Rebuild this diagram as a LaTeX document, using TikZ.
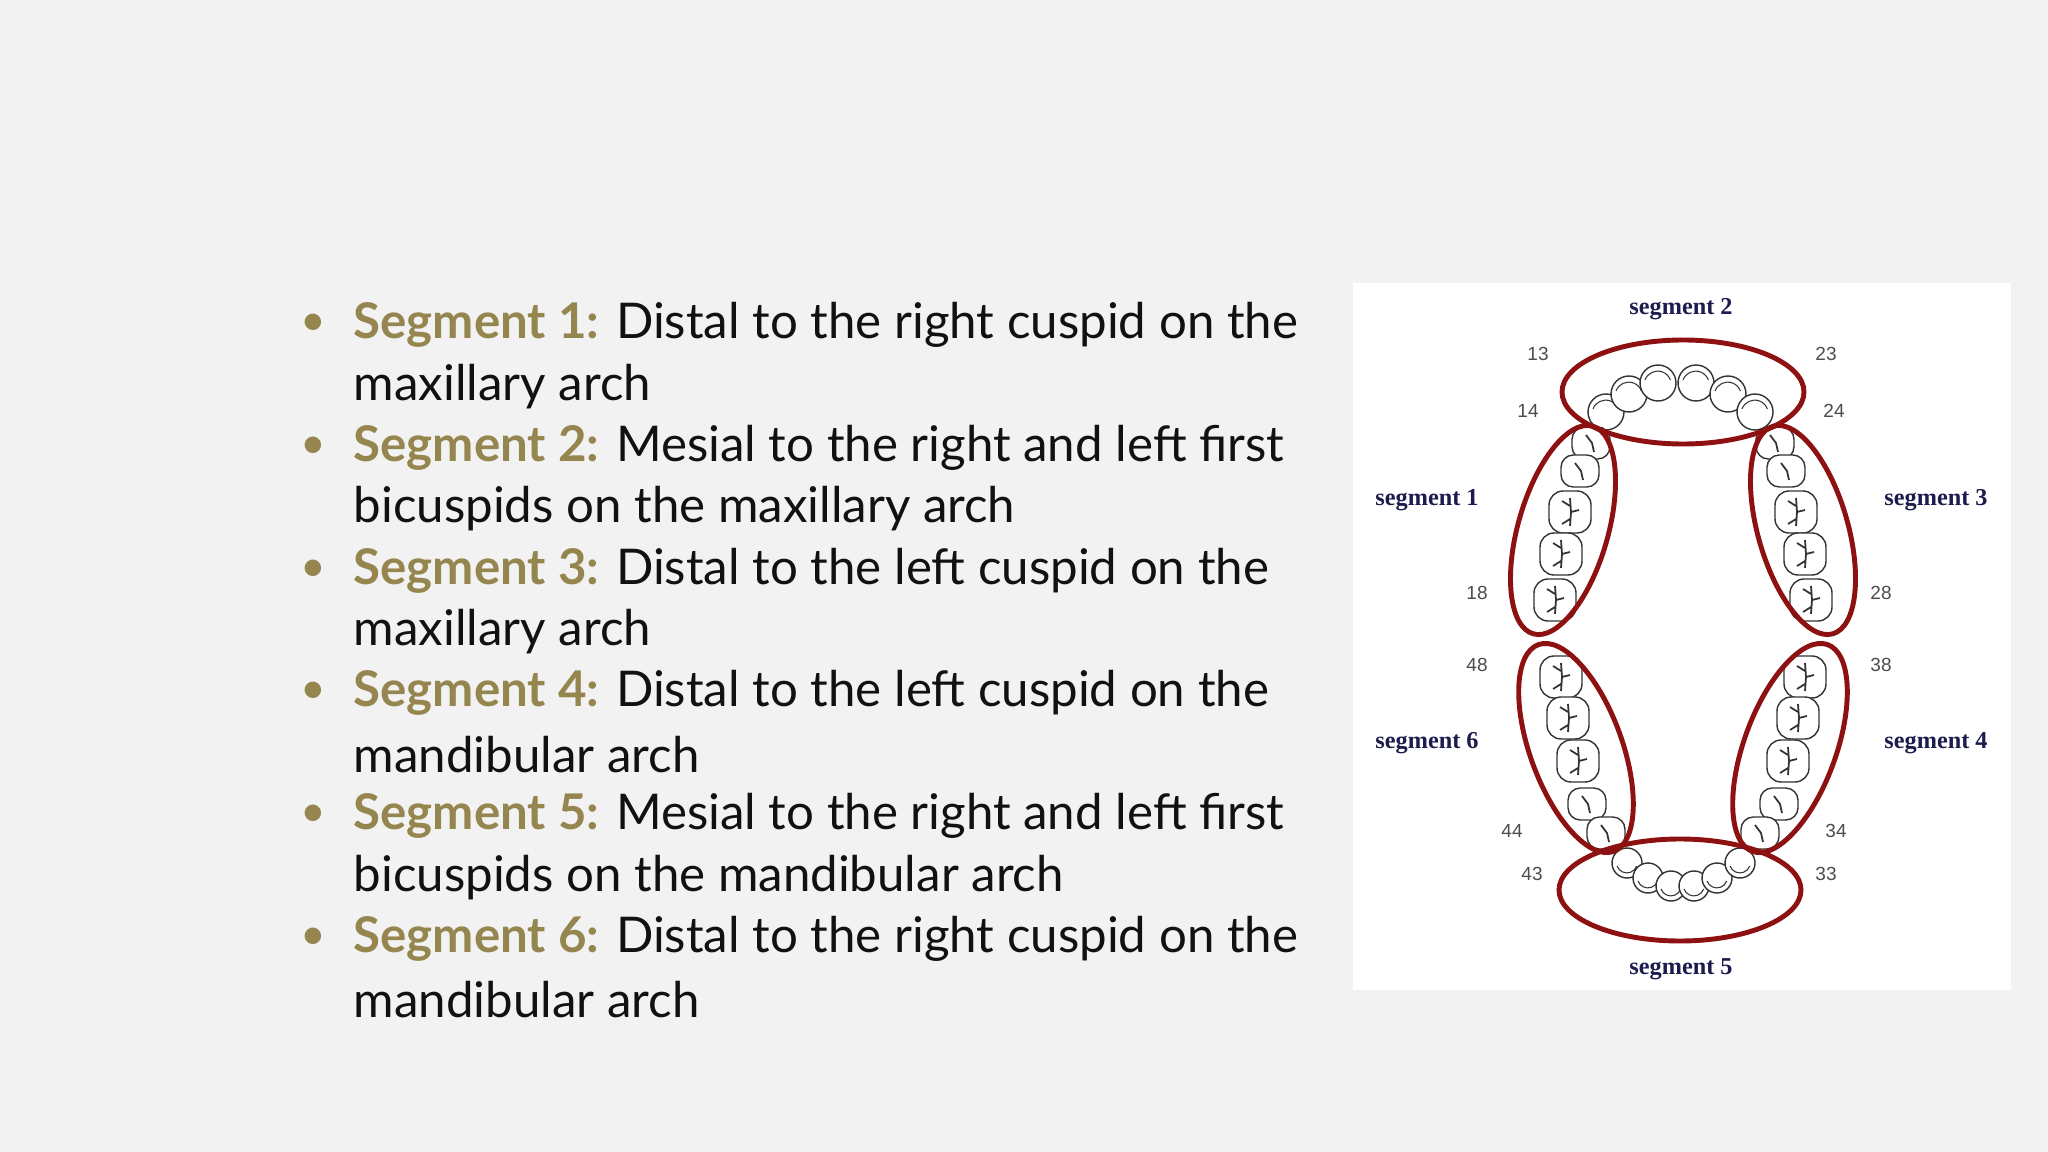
\documentclass[tikz,border=0pt]{standalone}
\usepackage{fontspec}
\setmainfont{Lato}
\newfontfamily\serifb{Liberation Serif}
\newfontfamily\numf{Liberation Sans}
\definecolor{bg}{HTML}{F2F2F2}
\definecolor{gold}{HTML}{958650}
\definecolor{txt}{HTML}{111111}
\definecolor{navy}{HTML}{1C1C4E}
\definecolor{ring}{HTML}{8E1111}
\tikzset{
 line/.style={anchor=west,inner sep=0pt,font=\fontsize{14}{16}\selectfont,text=txt},
 bul/.style={inner sep=0pt,font=\fontsize{12.6}{14}\selectfont,text=gold},
 seg/.style={inner sep=0pt,font=\serifb\bfseries\fontsize{6.9}{8}\selectfont,text=navy},
 num/.style={inner sep=0pt,font=\numf\fontsize{5.4}{6}\selectfont,text=black!70},
 ringst/.style={draw=ring,line width=1.4pt},
 tooth/.style={draw=black!80,line width=0.4pt,fill=white},
}
\begin{document}
\begin{tikzpicture}[x=0.01cm,y=-0.01cm]
\fill[bg] (0,0) rectangle (2048,1152);
\fill[white] (1353,283) rectangle (2011,990);
% text
\foreach \y/\n in {325/b1,448/b2,571/b3,693/b4,816/b5,939/b6}{\node[bul] (\n) at (313,\y) {•};}
\node[line] (l1) at (353,325) {{\bfseries\color{gold}Segment 1:} Distal to the right cuspid on the};
\node[line] (l2) at (353,387) {maxillary arch};
\node[line] (l3) at (353,448) {{\bfseries\color{gold}Segment 2:} Mesial to the right and left first};
\node[line] (l4) at (353,509) {bicuspids on the maxillary arch};
\node[line] (l5) at (353,571) {{\bfseries\color{gold}Segment 3:} Distal to the left cuspid on the};
\node[line] (l6) at (353,632) {maxillary arch};
\node[line] (l7) at (353,693) {{\bfseries\color{gold}Segment 4:} Distal to the left cuspid on the};
\node[line] (l8) at (353,755) {mandibular arch};
\node[line] (l9) at (353,816) {{\bfseries\color{gold}Segment 5:} Mesial to the right and left first};
\node[line] (l10) at (353,878) {bicuspids on the mandibular arch};
\node[line] (l11) at (353,939) {{\bfseries\color{gold}Segment 6:} Distal to the right cuspid on the};
\node[line] (l12) at (353,1000) {mandibular arch};
% teeth: anterior
\foreach \x/\y in {1606/412,1629/394,1658/383,1696/383,1728/394,1755/412}{
 \draw[tooth] (\x,\y) circle [radius=18];
 \draw[black!80,line width=0.3pt] ([shift={(-13,-3)}]\x,\y) arc[start angle=200,end angle=340,radius=13.5];}
\foreach \x/\y in {1627/863,1648/878,1671/886,1694/886,1717/878,1740/863}{
 \draw[tooth] (\x,\y) circle [radius=15];
 \draw[black!80,line width=0.3pt] ([shift={(-10,3)}]\x,\y) arc[start angle=160,end angle=20,radius=10.5];}
% premolars
\foreach \x/\y in {1591/443,1580/471,1775/443,1786/471,1587/804,1606/833,1779/804,1760/833}{
 \draw[tooth,rounded corners=3.5pt] (\x-19,\y-16) rectangle (\x+19,\y+16);
 \draw[black!80,line width=0.5pt] (\x-5,\y-8) -- (\x+1,\y) -- (\x+3,\y+9);}
% molars
\foreach \x/\y in {1570/512,1561/554,1555/600,1796/512,1805/554,1811/600,1561/677,1568/718,1578/761,1805/677,1798/718,1788/761}{
 \draw[tooth,rounded corners=4pt] (\x-21,\y-21) rectangle (\x+21,\y+21);
 \draw[black!80,line width=0.5pt] (\x,\y-14) -- (\x+1,\y) -- (\x,\y+14) (\x-8,\y-11) -- (\x,\y-6) (\x+1,\y) -- (\x+9,\y-2) (\x,\y+7) -- (\x-8,\y+12);}
% rings
\draw[ringst] (1683,392) ellipse [x radius=121,y radius=52];
\draw[ringst] (1680,890) ellipse [x radius=121,y radius=51];
\draw[ringst] (1563,530) ellipse [x radius=108,y radius=45,rotate=74];
\draw[ringst] (1803,530) ellipse [x radius=108,y radius=45,rotate=-74];
\draw[ringst] (1576,748) ellipse [x radius=110,y radius=46,rotate=-70];
\draw[ringst] (1790,748) ellipse [x radius=110,y radius=46,rotate=70];
% labels
\node[seg] (s2) at (1681,309) {segment 2};
\node[seg] (s1) at (1427,500) {segment 1};
\node[seg] (s3) at (1936,500) {segment 3};
\node[seg] (s6) at (1427,743) {segment 6};
\node[seg] (s4) at (1936,743) {segment 4};
\node[seg] (s5) at (1681,969) {segment 5};
\foreach \t/\x/\y in {13/1538/354,23/1826/354,14/1528/411,24/1834/411,18/1477/593,28/1881/593,48/1477/665,38/1881/665,44/1512/831,34/1836/831,43/1532/874,33/1826/874}{
 \node[num] (n\t) at (\x,\y) {\t};}
\end{tikzpicture}
\end{document}
